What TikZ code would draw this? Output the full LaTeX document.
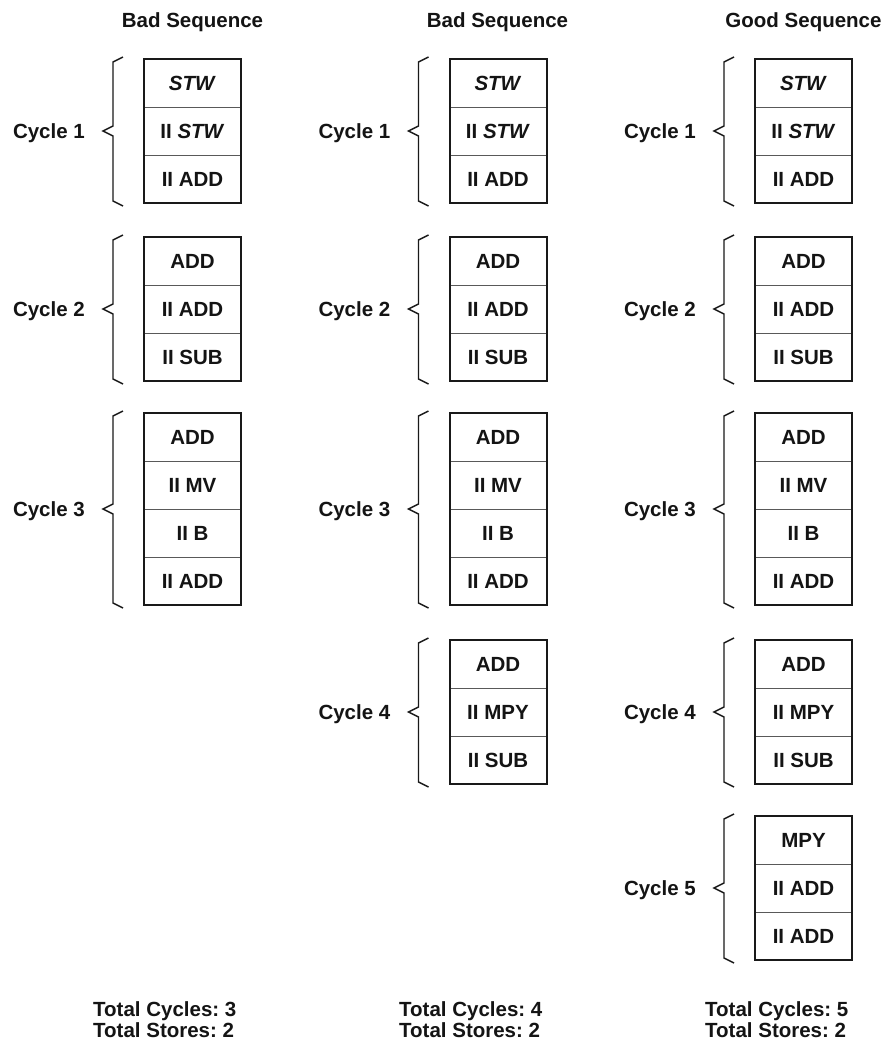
\documentclass[tikz,border=0pt]{standalone}
\usepackage{fontspec}
\setmainfont{Liberation Sans}
\frenchspacing
\usetikzlibrary{calc}
\tikzset{
  txt/.style={inner sep=0pt, font=\fontsize{20.5}{24}\selectfont\bfseries, text=black!92},
  cellbox/.style={draw=black!90, line width=2pt, minimum width=97pt, inner sep=0pt, outer sep=0pt},
  divider/.style={draw=black!65, line width=0.9pt},
  bracestyle/.style={draw=black!90, line width=1.4pt, line join=miter},
}
\newcommand\cycleblock[6]{%
  \pgfmathsetmacro\bh{48*#4}%
  \pgfmathtruncatemacro\nm{#4-1}%
  \node[cellbox, minimum height=\bh pt, anchor=north west] (#1) at (#2,#3) {};
  \foreach \k in {1,...,\nm}{%
    \draw[divider] ($(#1.north west)+(1,{48*\k})$) -- ($(#1.north east)+(-1,{48*\k})$);
  }
  \foreach \itm [count=\i] in {#6}{%
    \node[txt, anchor=base] (#1-\i) at ($(#1.north)+(0,{48*(\i-0.5)+7.3})$) {\itm};
  }
  \draw[bracestyle] ($(#1.north west)+(-21,-2)$) -- ++(-10,5)
    -- ($(#1.west)+(-31,-5)$) -- ++(-10,5) -- ++(10,5)
    -- ($(#1.south west)+(-31,-2)$) -- ++(10,5);
  \node[txt, anchor=base east] (#1-lab) at ($(#1.west)+(-59,7.3)$) {#5};
}
\begin{document}
\begin{tikzpicture}[x=1pt,y=-1pt]
\useasboundingbox[fill=white] (0,0) rectangle (886,1045);
% headers
\node[txt, anchor=base] (h1) at (192.5,27) {Bad Sequence};
\node[txt, anchor=base] (h2) at (497.5,27) {Bad Sequence};
\node[txt, anchor=base] (h3) at (803.5,27) {Good Sequence};
% column 1
\cycleblock{a1}{144}{59}{3}{Cycle 1}{\textit{STW}, II \textit{STW}, II ADD}
\cycleblock{a2}{144}{237}{3}{Cycle 2}{ADD, II ADD, II SUB}
\cycleblock{a3}{144}{413}{4}{Cycle 3}{ADD, II MV, II B, II ADD}
% column 2
\cycleblock{b1}{449.5}{59}{3}{Cycle 1}{\textit{STW}, II \textit{STW}, II ADD}
\cycleblock{b2}{449.5}{237}{3}{Cycle 2}{ADD, II ADD, II SUB}
\cycleblock{b3}{449.5}{413}{4}{Cycle 3}{ADD, II MV, II B, II ADD}
\cycleblock{b4}{449.5}{640}{3}{Cycle 4}{ADD, II MPY, II SUB}
% column 3
\cycleblock{c1}{755}{59}{3}{Cycle 1}{\textit{STW}, II \textit{STW}, II ADD}
\cycleblock{c2}{755}{237}{3}{Cycle 2}{ADD, II ADD, II SUB}
\cycleblock{c3}{755}{413}{4}{Cycle 3}{ADD, II MV, II B, II ADD}
\cycleblock{c4}{755}{640}{3}{Cycle 4}{ADD, II MPY, II SUB}
\cycleblock{c5}{755}{816}{3}{Cycle 5}{MPY, II ADD, II ADD}
% footers
\node[txt, anchor=base west] (f1a) at (93,1016) {Total Cycles: 3};
\node[txt, anchor=base west] (f1b) at (93,1037) {Total Stores: 2};
\node[txt, anchor=base west] (f2a) at (399,1016) {Total Cycles: 4};
\node[txt, anchor=base west] (f2b) at (399,1037) {Total Stores: 2};
\node[txt, anchor=base west] (f3a) at (705,1016) {Total Cycles: 5};
\node[txt, anchor=base west] (f3b) at (705,1037) {Total Stores: 2};
\end{tikzpicture}
\end{document}
